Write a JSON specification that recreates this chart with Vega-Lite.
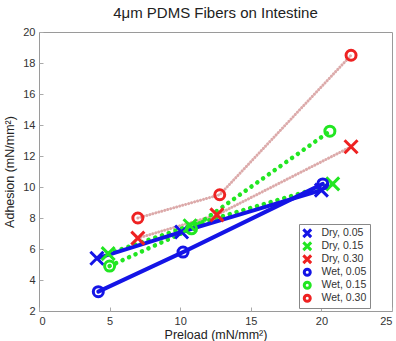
{
  "$schema": "https://vega.github.io/schema/vega-lite/v6.json",
  "width": 353,
  "height": 279,
  "autosize": "none",
  "padding": {"left": 39, "top": 32, "right": 4, "bottom": 30},
  "background": "white",
  "title": {"text": "4μm PDMS Fibers on Intestine", "font": "Liberation Sans", "fontSize": 15, "fontWeight": "normal", "color": "#222", "offset": 5},
  "config": {
    "view": {"stroke": "#9a9a9a", "strokeWidth": 1},
    "axis": {"grid": false, "domain": false, "labelFont": "Liberation Sans", "titleFont": "Liberation Sans", "labelFontSize": 11, "titleFontSize": 12.5, "titleFontWeight": "normal", "labelColor": "#333", "titleColor": "#222", "tickColor": "#aaa", "tickSize": -4, "labelPadding": 8}
  },
  "data": {"values": [
    {"series": "Dry, 0.05", "preload": 4.1, "adhesion": 5.4},
    {"series": "Dry, 0.05", "preload": 10.1, "adhesion": 7.1},
    {"series": "Dry, 0.05", "preload": 20.0, "adhesion": 9.8},
    {"series": "Dry, 0.15", "preload": 4.9, "adhesion": 5.7},
    {"series": "Dry, 0.15", "preload": 10.7, "adhesion": 7.5},
    {"series": "Dry, 0.15", "preload": 20.8, "adhesion": 10.2},
    {"series": "Dry, 0.30", "preload": 7.0, "adhesion": 6.7},
    {"series": "Dry, 0.30", "preload": 12.6, "adhesion": 8.2},
    {"series": "Dry, 0.30", "preload": 22.1, "adhesion": 12.6},
    {"series": "Wet, 0.05", "preload": 4.2, "adhesion": 3.25},
    {"series": "Wet, 0.05", "preload": 10.2, "adhesion": 5.8},
    {"series": "Wet, 0.05", "preload": 20.1, "adhesion": 10.2},
    {"series": "Wet, 0.15", "preload": 5.0, "adhesion": 4.9},
    {"series": "Wet, 0.15", "preload": 10.8, "adhesion": 7.3},
    {"series": "Wet, 0.15", "preload": 20.6, "adhesion": 13.6},
    {"series": "Wet, 0.30", "preload": 7.0, "adhesion": 8.0},
    {"series": "Wet, 0.30", "preload": 12.8, "adhesion": 9.5},
    {"series": "Wet, 0.30", "preload": 22.1, "adhesion": 18.5}
  ]},
  "encoding": {
    "x": {"field": "preload", "type": "quantitative", "scale": {"domain": [0, 25], "nice": false}, "axis": {"values": [0, 5, 10, 15, 20, 25], "title": "Preload (mN/mm²)", "titlePadding": 2}},
    "y": {"field": "adhesion", "type": "quantitative", "scale": {"domain": [2, 20], "nice": false, "zero": false}, "axis": {"values": [2, 4, 6, 8, 10, 12, 14, 16, 18, 20], "title": "Adhesion (mN/mm²)", "titlePadding": 6}}
  },
  "layer": [
    {
      "transform": [{"filter": {"field": "series", "oneOf": ["Dry, 0.30", "Wet, 0.30"]}}],
      "mark": {"type": "line", "strokeCap": "round", "color": "#dcaaaa", "strokeWidth": 3, "strokeDash": [0.1, 3]},
      "encoding": {"detail": {"field": "series", "type": "nominal"}}
    },
    {
      "transform": [{"filter": {"field": "series", "oneOf": ["Dry, 0.15", "Wet, 0.15"]}}],
      "mark": {"type": "line", "strokeCap": "round", "color": "#22e622", "strokeWidth": 4.5, "strokeDash": [0.1, 7]},
      "encoding": {"detail": {"field": "series", "type": "nominal"}}
    },
    {
      "transform": [{"filter": {"field": "series", "oneOf": ["Dry, 0.05", "Wet, 0.05"]}}],
      "mark": {"type": "line", "strokeCap": "round", "color": "#1414e6", "strokeWidth": 4},
      "encoding": {"detail": {"field": "series", "type": "nominal"}}
    },
    {
      "mark": {"type": "point", "filled": false, "strokeWidth": 3, "size": 100, "opacity": 1},
      "encoding": {
        "color": {"field": "series", "type": "nominal", "scale": {"domain": ["Dry, 0.05", "Dry, 0.15", "Dry, 0.30", "Wet, 0.05", "Wet, 0.15", "Wet, 0.30"], "range": ["#1414e6", "#22e622", "#ee2222", "#1414e6", "#22e622", "#ee2222"]},
          "legend": {"orient": "none", "legendX": 260, "legendY": 192, "title": null, "strokeColor": "#888", "fillColor": "white", "padding": 3, "labelFont": "Liberation Sans", "labelFontSize": 10.5, "labelColor": "#333", "symbolStrokeWidth": 3, "symbolSize": 36, "rowPadding": 0, "clipHeight": 12.5, "labelOffset": 9, "labelLimit": 60,
            "encode": {"symbols": {"update": {"size": {"value": 36}, "strokeWidth": {"value": 3}}}}}},
        "shape": {"field": "series", "type": "nominal", "scale": {"domain": ["Dry, 0.05", "Dry, 0.15", "Dry, 0.30", "Wet, 0.05", "Wet, 0.15", "Wet, 0.30"], "range": ["M-1.3,-1.3L1.3,1.3M-1.3,1.3L1.3,-1.3", "M-1.3,-1.3L1.3,1.3M-1.3,1.3L1.3,-1.3", "M-1.3,-1.3L1.3,1.3M-1.3,1.3L1.3,-1.3", "circle", "circle", "circle"]}}
      }
    }
  ]
}
